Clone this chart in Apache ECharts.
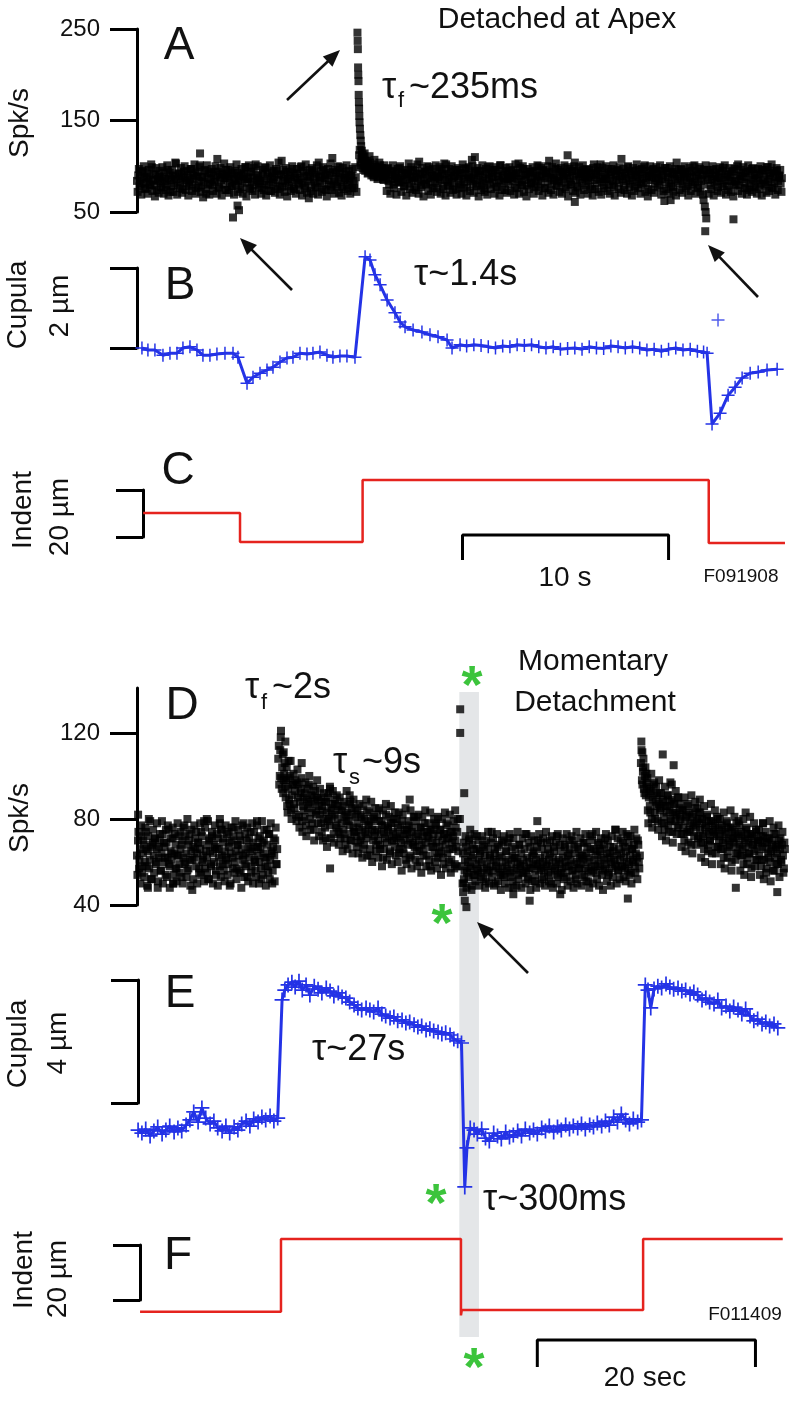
<!DOCTYPE html>
<html><head><meta charset="utf-8">
<script src="https://cdn.jsdelivr.net/npm/echarts@6/dist/echarts.min.js"></script>
<style>html,body{margin:0;padding:0;background:#fff}#c{width:789px;height:1409px}</style>
</head><body><div id="c"></div>
<script>
// ---------- Panel A: firing rate (spk/s), "Detached at Apex" ----------
const A_TICKS = [50, 150, 250];
const A_PRE_T = [0.0, 10.62];
const A_PRE = [84,90,78,86,95,81,88,76,92,83,87,80,99,85,79,91,74,86,89,82,
88,77,93,84,80,96,87,72,85,90,81,104,86,79,92,83,89,75,94,85,
82,91,78,87,97,80,86,93,76,89,84,101,79,88,83,95,70,87,92,81,
86,79,94,83,90,108,77,88,85,92,80,87,96,74,89,82,91,78,86,86,
80,93,84,84,89,77,91,86,99,82,88,75,94,83,87,79,102,85,90,81,
87,76,92,84,98,80,89,73,86,93,82,88,79,95,85,91,77,106,84,89,
81,94,86,78,90,83,97,75,88,85,92,80,87,100,82,89,76,93,84,65,
88,79,95,86,82,91,77,104,84,89,81,96,87,74,90,85,93,78,109,83,
86,92,80,88,99,83,77,91,85,94,79,87,82,90,76,84,80,88];
const A_PRE2_T = [0.03, 10.65];
const A_PRE2 = [72,97,81,69,94,100,75,88,70,96,79,102,73,91,67,98,84,71,95,77,
99,70,86,74,101,68,93,78,96,72,89,103,69,92,76,98,71,87,100,74,
95,68,83,97,73,90,102,70,94,77,99,72,88,66,96,75,101,80,69,93,
97,73,85,100,70,94,76,98,68,91,103,74,87,96,71,99,78,93,69,95,
102,72,89,75,97,70,92,99,67,86,101,76,94,73,98,69,90,100,77,84,
70,96,74,99,68,93,80,101,73,88,95,71,97,75,104,69,91,78,96,72,
98,67,86,94,73,100,76,92,70,97,82,74,99,68,95,79,102,71,89,96,
73,98,70,93,77,101,69,88,95,72,99,75,91,67,97,80,103,74,94,70,
96,78,100,71,92,68,98,75,87,101,73,95,70,90,97,76,99,72];
const A_POST_T = [10.78, 27.5];
const A_POST = [112,104,108,98,103,95,100,92,97,104,90,96,88,99,93,86,95,101,89,94,85,92,
88,97,84,91,86,94,80,89,93,83,87,98,82,90,85,78,92,86,95,81,
89,84,96,77,88,92,83,105,86,79,91,85,94,80,87,99,82,90,76,88,
84,93,81,89,86,97,78,91,85,102,83,88,79,94,87,82,90,75,96,84,
89,80,92,86,83,98,77,88,91,84,107,81,87,93,79,90,85,95,82,88,
76,91,84,99,86,80,93,88,82,96,78,89,85,101,83,90,87,74,94,86,
81,88,95,84,90,77,92,86,103,83,89,80,97,85,91,79,88,94,82,87,
93,78,86,90,84,100,81,89,95,76,87,92,83,106,88,80,91,85,97,79,
88,84,94,82,90,86,77,92,99,83,87,80,95,89,104,85,78,91,86,93,
82,89,96,79,87,84,92,88,75,98,85,90,81,94,86,102,83,88,79,91,
86,93,80,88,97,84,77,90,85,95,82,89,108,86,79,92,84,99,87,81,
90,85,94,78,88,83,96,86,80,91,87,101,82,89,75,93,85,88,97,81,
87,92,84,79,95,86,90,62,83,98,88,81,93,85,77,91,86,104,82,89,
84,96,80,88,92,85,78,94,87,82,100,89,83,91,76,86,97,84,90,80];
const A_POST2_T = [10.81, 27.53];
const A_POST2 = [118,101,110,96,114,99,106,93,111,97,102,90,107,95,99,88,104,92,98,86,101,94,
73,98,80,70,95,101,76,89,69,97,83,100,72,93,78,96,68,91,103,75,
99,71,87,95,74,102,70,92,77,98,67,94,81,100,73,96,69,90,97,76,
101,72,88,99,70,95,75,103,68,92,79,97,71,100,74,89,96,69,98,77,
93,70,102,76,97,68,91,99,73,86,100,71,95,78,98,67,94,74,101,80,
72,97,69,93,100,75,88,96,70,99,77,92,68,101,74,95,82,98,71,90,
99,73,87,96,69,102,76,93,70,98,79,100,72,91,67,97,75,94,81,99,
70,95,77,101,73,89,98,68,96,76,92,100,71,94,74,99,69,87,103,78,
96,72,98,70,93,101,75,90,67,97,80,94,73,100,71,95,77,99,69,92,
101,74,88,97,70,96,78,93,68,102,75,91,99,72,95,69,98,76,86,100,
73,97,70,94,79,101,68,92,96,75,99,71,89,97,74,93,70,100,77,95,
68,98,73,91,102,76,94,70,97,81,99,72,95,67,90,100,74,96,71,93,
99,77,87,101,69,95,73,98,75,92,70,100,78,94,72,97,68,91,96,74,
97,71,93,100,76,89,68,98,73,95,80,101,70,94,77,99,72,92,69,96];
const A_END_T = [27.66, 31.3];
const A_END = [88,85,92,79,86,96,82,89,84,77,93,87,81,98,85,90,78,88,84,
91,83,95,80,87,84,102,79,89,86,93,82,88,76,94,85,81,97,86,90,
78,87,84,92,81,96,85,88,80,99,83,90,86,77,93,82,88,95,84,89,81,87];
const A_END2_T = [27.69, 31.28];
const A_END2 = [96,70,93,75,100,68,91,97,73,88,99,71,95,78,101,69,92,74,98,72,
94,67,97,80,100,73,90,96,70,99,76,93,69,101,74,95,72,98,77,91,
70,97,75,100,68,94,79,96,71,99,73,92,102,76,95,69,98,74,90,96,72];
const A_SPIKE = [[10.70,246],[10.71,237],[10.72,228],[10.73,208],[10.74,200],[10.75,193],[10.76,178],
[10.77,170],[10.78,163],[10.79,155],[10.80,148],[10.82,141],[10.84,134],[10.86,128],[10.88,122],
[10.91,117],[10.95,113],[11.0,110],[11.08,106],[11.2,103]];
const A_OUT = [[4.66,44],[4.88,57],[4.95,52],[27.5,63],[27.56,56],[27.6,50],[27.63,43],[27.58,29],
[28.95,42],[21.25,61],[25.9,63],[3.06,114],[16.4,110],[20.9,112],[27.6,101]];

// ---------- Panel B: cupula displacement (µm) ----------
const B_PTS = [[0.24,0.00],[0.53,-0.05],[0.87,-0.05],[1.26,-0.18],[1.60,-0.13],[1.94,-0.13],[2.23,0.00],
[2.57,0.03],[2.91,-0.05],[3.20,-0.18],[3.54,-0.18],[3.88,-0.15],[4.27,-0.13],[4.66,-0.13],[4.90,-0.23],
[5.34,-0.88],[5.63,-0.73],[5.97,-0.63],[6.31,-0.55],[6.60,-0.48],[6.94,-0.35],[7.28,-0.25],[7.57,-0.23],
[7.91,-0.13],[8.25,-0.15],[8.54,-0.13],[8.88,-0.10],[9.22,-0.18],[9.51,-0.23],[9.85,-0.20],[10.19,-0.20],
[10.58,-0.23],[11.07,2.28],[11.31,2.20],[11.55,1.83],[11.80,1.58],[12.14,1.20],[12.52,0.88],[12.77,0.65],
[13.01,0.53],[13.40,0.45],[13.83,0.40],[14.22,0.33],[14.61,0.28],[15.05,0.20],[15.29,0.00],[15.68,0.08],
[16.0,0.05],[16.35,0.08],[16.7,0.06],[17.05,0.03],[17.4,0.00],[17.75,0.05],[18.1,0.03],[18.45,0.08],
[18.8,0.06],[19.15,0.08],[19.5,0.03],[19.85,0.00],[20.2,0.03],[20.55,-0.03],[20.9,-0.01],[21.25,0.00],
[21.6,-0.03],[21.95,0.03],[22.3,0.00],[22.65,-0.01],[23.0,0.05],[23.35,0.03],[23.7,0.00],[24.05,0.03],
[24.4,0.00],[24.75,-0.05],[25.1,-0.03],[25.45,-0.08],[25.8,-0.03],[26.15,0.00],[26.5,-0.05],[26.85,-0.03],
[27.2,-0.08],[27.5,-0.10],[27.67,-0.13],[27.91,-1.90],[28.30,-1.63],[28.69,-1.18],[29.03,-0.98],
[29.37,-0.75],[29.76,-0.63],[30.15,-0.60],[30.58,-0.55],[31.07,-0.53]];
const B_OUT = [[28.2,0.70]];

// ---------- Panel C: indentation (µm) ----------
const C_STEPS = [[0.3,10.2],[5.0,-2.1],[10.95,24.3],[27.75,-2.6],[31.45,-2.6]];
const C_BAR = [[15.8,-9.8],[15.8,0.8],[25.8,0.8],[25.8,-9.8]];

// ---------- Panel D: firing rate (spk/s), "Momentary Detachment" ----------
const D_TICKS = [40, 80, 120];
const D_PRE_T = [0.0, 12.85];
const D_PRE = [63,70,57,66,72,55,64,68,60,74,58,65,80,61,67,52,69,63,71,59,
66,48,62,70,56,64,73,60,67,54,69,62,75,58,65,61,71,50,64,68,
57,63,72,59,66,53,70,62,77,60,64,56,68,73,61,65,47,67,62,71,
58,64,69,55,66,74,61,63,79,57,68,62,52,70,65,59,72,64,60,67,
54,66,71,62,58,75,63,69,56,65,61,73,59,67,49,64,70,62,76,60,
65,57,68,63,72,55,66,61,78,59,64,70,53,67,62,74,58,65,69,61,
56,67,63,71,60,66,52,69,64,75,58,62,68,55,73,61,65,50,67,63,70,59,66];
const D_PRE2_T = [0.04, 12.8];
const D_PRE2 = [54,74,61,50,77,58,70,53,76,66,49,72,57,79,52,68,75,55,71,60,
78,51,67,73,56,79,50,69,62,75,53,77,59,48,71,64,76,54,73,57,
51,78,63,55,74,68,50,76,59,72,53,80,57,70,49,75,61,52,77,66,
74,50,69,57,78,54,72,60,51,76,65,55,79,52,71,58,74,50,68,77,
56,73,49,66,78,53,75,59,71,51,77,62,54,74,69,50,76,57,72,55,
79,52,68,75,56,70,48,77,63,53,73,58,76,51,71,66,55,78,50,74,
60,53,77,67,50,72,57,79,54,70,62,49,75,58,73,52,78,64,56,71,51,76,59];
const D_ON1_T = [12.95, 29.45];
const D_ON1 = [108,96,112,99,104,92,101,95,
98,86,94,89,100,84,91,96,87,93,82,97,
90,81,88,94,79,86,84,92,77,89,85,96,80,87,83,91,75,88,84,90,
78,86,82,90,74,84,80,88,71,83,79,92,77,85,81,87,73,82,89,76,
80,74,84,71,78,86,75,81,68,79,83,73,77,88,70,82,76,74,85,72,
78,69,76,82,72,75,66,80,74,71,84,73,77,63,79,75,70,81,74,68,
75,70,79,66,73,77,62,74,71,82,69,76,72,65,78,70,74,80,67,73,
71,76,64,72,69,79,66,73,70,61,75,68,77,71,63,74,69,81,67,72,
65,73,70,60,76,68,72,66,78,69,63,74,71,58,75,67,70,73,64,77,
69,62,72,67,75,65,70,59,73,68,78,64,71,66,74,61,69,72,57,70,67,74,65];
const D_ON1_2_T = [13.0, 29.4];
const D_ON1_2 = [114,100,118,94,110,98,106,90,
104,83,99,87,107,80,96,101,85,98,79,103,
96,76,92,99,74,90,81,97,72,94,88,100,75,91,78,95,70,93,82,98,
89,72,94,78,86,70,92,76,88,67,90,80,95,71,84,93,69,87,77,91,
86,68,90,73,84,65,88,71,82,93,66,79,87,70,85,64,89,74,81,67,
84,64,87,70,81,62,86,68,79,89,63,77,83,66,88,60,80,72,85,65,
82,62,85,68,79,58,84,66,77,87,61,75,81,64,86,59,78,70,83,63,
80,60,83,66,77,56,82,64,75,85,59,73,79,62,84,57,76,68,81,61,
79,58,82,65,76,55,81,63,74,84,58,72,78,61,83,56,75,67,80,60,
78,57,81,64,75,54,80,62,73,83,57,71,77,60,82,55,74,66,79,59,76,58,80];
const D_OFF_T = [29.8, 46.1];
const D_OFF = [58,64,52,61,67,55,60,70,57,63,49,62,66,54,59,72,56,61,65,53,
60,68,57,63,51,59,66,55,62,58,74,56,61,64,50,60,67,57,63,54,
62,58,69,53,60,65,56,61,71,55,59,63,48,62,66,57,60,54,68,59,
64,55,61,58,73,56,62,52,60,67,57,63,59,65,51,61,58,70,56,62,
57,66,60,53,63,59,69,55,61,64,50,58,62,67,56,60,72,54,61,59,
65,57,62,55,68,60,53,63,58,66,61,56,70,59,64,52,60,67,57,62,
59,63,54,61,69,57,64,60,51,62,66,58,73,56,61,65,55,63,59,68,
58,62,66,56,61,71,59,64,54,62,67,60,57,65,61,75,58,63,56,66,
61,64,58,69,62,57,65,60,72,59,63,55,66,61,68,58,64,62,70,60,63];
const D_OFF2_T = [29.85, 46.05];
const D_OFF2 = [50,69,56,72,48,65,53,71,58,47,68,54,73,51,66,57,70,49,64,55,
72,52,67,48,70,56,74,50,63,69,53,71,49,66,58,73,51,68,55,47,
70,54,72,50,65,57,69,48,73,53,67,51,71,56,62,49,74,52,68,58,
48,71,55,66,50,73,53,69,57,47,72,51,64,70,54,48,67,59,73,50,
69,52,71,56,49,74,58,66,51,70,54,72,48,65,57,69,50,73,53,68,
55,47,71,52,67,58,73,49,64,70,51,72,56,48,68,54,74,50,66,57,
71,49,63,69,53,73,51,67,56,48,72,55,70,50,66,58,74,52,69,49,
65,71,54,47,68,57,73,51,70,55,64,49,72,53,67,59,75,50,71,56,
52,70,58,74,53,67,51,73,56,69,54,72,50,66,60,75,55,71,52,68,57];
const D_ON2_T = [46.2, 59.4];
const D_ON2 = [106,98,102,94,100,91,
95,84,90,86,93,80,89,96,83,88,91,79,87,92,
85,78,88,81,75,86,83,91,77,84,80,89,74,83,87,79,82,76,90,81,
80,73,84,76,70,79,82,74,87,75,78,68,81,77,72,85,76,79,71,83,
75,69,78,72,66,76,73,81,68,74,70,79,64,75,72,77,67,73,80,70,
72,66,75,69,62,73,70,78,65,71,68,76,60,72,69,74,64,71,67,79,
68,63,72,66,59,70,67,75,62,69,64,73,57,68,71,65,61,74,66,69,
63,70,58,67,72,61,66,55,69,64,71,60,65,68,56,73,62,67,64,59,70,66,61,68,63,57,66];
const D_ON2_2_T = [46.25, 59.35];
const D_ON2_2 = [112,96,108,92,104,97,
99,78,94,83,101,76,92,97,80,95,86,75,98,84,
92,72,89,78,95,70,86,91,74,88,79,96,69,87,83,93,73,90,77,85,
87,67,84,73,90,65,81,86,69,83,74,91,64,82,78,88,68,85,72,80,
83,62,80,69,86,60,77,82,65,79,70,87,59,78,74,84,64,81,67,76,
80,59,77,66,83,57,74,79,62,76,67,84,56,75,71,81,61,78,64,73,
77,56,74,63,80,54,71,76,59,73,64,81,53,72,68,78,58,75,61,70,
75,54,72,61,78,52,69,74,57,71,62,79,51,70,66,76,56,73,59,68,77,53,71,60,74,55,69];
const D_OUT = [[0.1,82],[1.0,48],[3.3,50],[6.4,80],[7.6,80],[11.0,79],
[13.2,121],[13.45,111],[13.6,116],[13.9,107],[15.1,106],[17.7,94],[19.5,91],[17.7,57],[25.0,89],
[29.63,131],[29.63,120],[30.0,92],[29.17,84],[29.6,80],[30.55,75],[29.9,46],[30.05,42],[30.2,39],[29.95,50],
[36.7,79],[38.8,45],[36.0,42],[45.0,43],[34.5,45],
[46.24,116],[46.33,111],[48.2,110],[49.2,105],[46.4,104],[46.7,101],[48.9,97],[51.6,89],[55.8,83],
[57.4,78],[54.9,48],[58.7,46]];

// ---------- Panel E: cupula displacement (µm) ----------
const E_PTS = [[0.1,-0.88],[0.45,-0.98],[0.8,-0.85],[1.2,-1.07],[1.55,-0.91],[1.9,-0.78],[2.3,-1.01],
[2.65,-0.88],[3.0,-0.75],[3.4,-0.94],[3.75,-0.81],[4.1,-0.91],[4.5,-0.72],[4.85,-0.55],[5.2,-0.29],
[5.6,-0.62],[5.95,-0.16],[6.3,-0.49],[6.7,-0.68],[7.05,-0.59],[7.4,-0.81],[7.8,-0.91],[8.15,-0.75],
[8.5,-0.98],[8.9,-0.78],[9.25,-0.88],[9.6,-0.68],[10.0,-0.59],[10.35,-0.75],[10.7,-0.52],[11.1,-0.62],
[11.45,-0.46],[11.8,-0.55],[12.2,-0.42],[12.55,-0.59],[12.9,-0.49],
[13.3,3.35],[13.55,3.67],[13.85,3.84],[14.2,3.93],[14.5,3.77],[14.85,3.96],[15.15,3.67],[15.5,3.84],
[15.85,3.51],[16.25,3.80],[16.6,3.70],[16.95,3.58],[17.35,3.74],[17.7,3.64],[18.05,3.48],[18.45,3.58],
[18.8,3.45],[19.15,3.41],[19.5,3.28],[19.9,3.19],[20.25,3.09],[20.6,3.02],[21.0,3.09],[21.35,3.02],
[21.7,2.96],[22.1,3.09],[22.45,2.89],[22.8,2.83],[23.2,2.76],[23.55,2.80],[23.9,2.67],[24.3,2.70],
[24.65,2.60],[25.0,2.63],[25.4,2.54],[25.75,2.47],[26.1,2.50],[26.5,2.37],[26.85,2.41],[27.2,2.34],
[27.6,2.31],[27.95,2.24],[28.3,2.28],[28.7,2.21],[29.05,2.08],[29.4,2.02],[29.75,1.95],
[30.05,-2.73],[30.25,-1.46],[30.55,-0.81],[30.9,-0.88],[31.2,-1.01],[31.6,-0.85],[31.95,-1.14],
[32.3,-1.24],[32.7,-0.98],[33.05,-1.07],[33.4,-1.17],[33.8,-0.94],[34.15,-1.11],[34.5,-1.04],
[34.9,-0.91],[35.25,-1.07],[35.6,-0.85],[36.0,-0.98],[36.35,-0.88],[36.7,-1.01],[37.1,-0.81],
[37.45,-0.91],[37.8,-0.75],[38.2,-0.94],[38.55,-0.78],[38.9,-0.88],[39.3,-0.72],[39.65,-0.85],
[40.0,-0.75],[40.4,-0.81],[40.75,-0.68],[41.1,-0.85],[41.5,-0.72],[41.85,-0.78],[42.2,-0.65],
[42.6,-0.75],[42.95,-0.59],[43.3,-0.72],[43.7,-0.46],[44.05,-0.62],[44.4,-0.36],[44.8,-0.55],
[45.15,-0.68],[45.5,-0.52],[45.9,-0.62],[46.25,-0.55],
[46.6,3.84],[46.85,3.67],[47.1,3.09],[47.4,3.71],[47.75,3.80],[48.1,3.74],[48.5,3.87],[48.85,3.77],
[49.2,3.70],[49.6,3.74],[49.95,3.64],[50.3,3.67],[50.7,3.54],[51.05,3.61],[51.4,3.51],[51.8,3.35],
[52.15,3.41],[52.5,3.28],[52.9,3.22],[53.25,3.35],[53.6,3.09],[54.0,3.15],[54.35,2.99],[54.7,3.12],
[55.1,3.02],[55.45,2.89],[55.8,3.06],[56.2,2.83],[56.55,2.67],[56.9,2.73],[57.3,2.57],[57.65,2.63],
[58.0,2.50],[58.4,2.57],[58.75,2.44]];

// ---------- Panel F: indentation (µm) ----------
const F_STEPS = [[0.28,-4.3],[13.2,22.2],[29.7,-5.6],[29.78,-3.6],[46.4,22.2],[59.2,22.2]];
const F_BAR = [[36.7,-24.4],[36.7,-14.5],[56.7,-14.5],[56.7,-24.4]];
const BAND = [29.55, 31.35];

// ---------- helpers ----------
const FONT = 'Liberation Sans, Arial, Helvetica, sans-serif';
const INK = '#000000', BLUE = '#2433e6', RED = '#e5231e', GREEN = '#3cc43c';
const PLUS = 'path://M6.2,0H7.8V6.2H14V7.8H7.8V14H6.2V7.8H0V6.2H6.2Z';
function spread(range, vals) {
  const n = vals.length;
  return vals.map((v, i) => [range[0] + (range[1] - range[0]) * i / (n - 1), v]);
}
const grids = [
  {left:137, top:29, width:649, height:183},      // 0 A
  {left:137, top:240, width:649, height:200},     // 1 B data
  {left:137, top:268, width:10, height:80},       // 2 B bracket
  {left:137, top:466.5, width:649, height:103.4}, // 3 C data
  {left:143, top:490, width:10, height:47},       // 4 C bracket
  {left:137, top:688, width:649, height:217},     // 5 D
  {left:137, top:964.6, width:649, height:246},   // 6 E data
  {left:138, top:980, width:10, height:123},      // 7 E bracket
  {left:137, top:1220.25, width:649, height:110}, // 8 F data
  {left:140, top:1245, width:10, height:55},      // 9 F bracket
  {left:137, top:692, width:649, height:645}      // 10 band
].map(g => Object.assign({outerBoundsMode:'none', containLabel:false}, g));
const xMax = [31.5, 31.5, 1, 31.5, 1, 59.5, 59.5, 1, 59.5, 1, 59.5];
const xAxes = xMax.map((m, i) => ({gridIndex:i, type:'value', min:0, max:m, show:false}));
function hidden(i, mn, mx) { return {gridIndex:i, type:'value', min:mn, max:mx, show:false}; }
function bracket(i, mx) {
  return {gridIndex:i, type:'value', min:0, max:mx, interval:mx,
    axisLine:{show:true, lineStyle:{color:INK, width:3}},
    axisTick:{show:true, length:27, customValues:[0, mx], lineStyle:{color:INK, width:3}},
    axisLabel:{show:false}, splitLine:{show:false}};
}
function rateAxis(i, mn, mx, ticks, itv) {
  return {gridIndex:i, type:'value', min:mn, max:mx, interval:itv,
    axisLine:{show:true, lineStyle:{color:INK, width:3}},
    axisTick:{show:true, length:27, customValues:ticks, lineStyle:{color:INK, width:3}},
    axisLabel:{show:true, customValues:ticks, margin:37, fontSize:24, color:'#111', fontFamily:FONT},
    splitLine:{show:false}};
}
const yAxes = [
  rateAxis(0, 50, 250, A_TICKS, 100),
  hidden(1, -2.3, 2.7),
  bracket(2, 2),
  hidden(3, -14, 30),
  bracket(4, 20),
  rateAxis(5, 40, 140.9, D_TICKS, 40),
  hidden(6, -3.5, 4.5),
  bracket(7, 4),
  hidden(8, -11, 29),
  bracket(9, 20),
  hidden(10, 0, 1)
];
const sq = (idx, data) => ({type:'scatter', xAxisIndex:idx, yAxisIndex:idx, data, symbol:'rect',
  symbolSize:8, itemStyle:{color:INK}, clip:false, silent:true, z:3, large:false});
const series = [
  {type:'custom', xAxisIndex:10, yAxisIndex:10, data:[BAND], z:1, silent:true,
   renderItem:(p, api) => {
     const a = api.coord([api.value(0), 1]), b = api.coord([api.value(1), 0]);
     return {type:'rect', shape:{x:a[0], y:a[1], width:b[0]-a[0], height:b[1]-a[1]}, style:{fill:'#e4e6e8'}};
   }},
  sq(0, spread(A_PRE_T, A_PRE).concat(spread(A_PRE2_T, A_PRE2), spread(A_POST_T, A_POST),
     spread(A_POST2_T, A_POST2), spread(A_END_T, A_END), spread(A_END2_T, A_END2), A_SPIKE, A_OUT)),
  {type:'line', xAxisIndex:1, yAxisIndex:1, data:B_PTS, symbol:PLUS, symbolSize:13, clip:false,
   lineStyle:{color:BLUE, width:3}, itemStyle:{color:BLUE}, z:3, silent:true},
  {type:'scatter', xAxisIndex:1, yAxisIndex:1, data:B_OUT, symbol:PLUS, symbolSize:13, itemStyle:{color:BLUE}, z:3, silent:true},
  {type:'line', xAxisIndex:3, yAxisIndex:3, data:C_STEPS, step:'end', showSymbol:false, symbol:'none',
   lineStyle:{color:RED, width:2.5}, z:3, silent:true},
  {type:'line', xAxisIndex:3, yAxisIndex:3, data:C_BAR, showSymbol:false, symbol:'none', clip:false,
   lineStyle:{color:INK, width:3}, z:3, silent:true},
  sq(5, spread(D_PRE_T, D_PRE).concat(spread(D_PRE2_T, D_PRE2), spread(D_ON1_T, D_ON1), spread(D_ON1_2_T, D_ON1_2),
     spread(D_OFF_T, D_OFF), spread(D_OFF2_T, D_OFF2), spread(D_ON2_T, D_ON2), spread(D_ON2_2_T, D_ON2_2), D_OUT)),
  {type:'line', xAxisIndex:6, yAxisIndex:6, data:E_PTS, symbol:PLUS, symbolSize:15, clip:false,
   lineStyle:{color:BLUE, width:3}, itemStyle:{color:BLUE}, z:3, silent:true},
  {type:'line', xAxisIndex:8, yAxisIndex:8, data:F_STEPS, step:'end', showSymbol:false, symbol:'none',
   lineStyle:{color:RED, width:2.5}, z:3, silent:true},
  {type:'line', xAxisIndex:8, yAxisIndex:8, data:F_BAR, showSymbol:false, symbol:'none', clip:false,
   lineStyle:{color:INK, width:3}, z:3, silent:true}
];

// ---------- annotations ----------
function txt(x, y, s, size, align, extra) {
  const al = align || 'center';
  return Object.assign({type:'text', x:x, y:y, silent:true, z:10,
    style:{text:s, fontSize:size, fontFamily:FONT, fill:'#111', align:al, verticalAlign:'middle',
           textAlign:al, textVerticalAlign:'middle'}}, extra || {});
}
const ROT = {rotation: Math.PI / 2};
function arrow(x1, y1, x2, y2) {
  const dx = x2 - x1, dy = y2 - y1, L = Math.hypot(dx, dy), ux = dx / L, uy = dy / L;
  const bx = x2 - ux * 17, by = y2 - uy * 17;
  return [
    {type:'line', silent:true, z:10, shape:{x1:x1, y1:y1, x2:bx + ux * 2, y2:by + uy * 2}, style:{stroke:'#111', lineWidth:2.6}},
    {type:'polygon', silent:true, z:10, shape:{points:[[x2, y2], [bx - uy * 7, by + ux * 7], [bx + uy * 7, by - ux * 7]]}, style:{fill:'#111'}}
  ];
}
function star(x, y) {
  return {type:'text', x:x, y:y + 12, silent:true, z:10,
    style:{text:'*', fontSize:54, fontWeight:'bold', fontFamily:FONT, fill:GREEN, align:'center', verticalAlign:'middle',
           textAlign:'center', textVerticalAlign:'middle'}};
}
const graphics = [
  txt(557, 20, 'Detached at Apex', 30),
  txt(179, 46, 'A', 46), txt(180, 286, 'B', 46), txt(178, 471, 'C', 46),
  txt(182, 706, 'D', 46), txt(180, 994, 'E', 46), txt(178, 1256, 'F', 46),
  txt(20, 123, 'Spk/s', 28, 'center', ROT),
  txt(18, 305, 'Cupula', 28, 'center', ROT), txt(60, 306, '2 µm', 28, 'center', ROT),
  txt(23, 510, 'Indent', 28, 'center', ROT), txt(60, 517, '20 µm', 28, 'center', ROT),
  txt(20, 818, 'Spk/s', 28, 'center', ROT),
  txt(18, 1044, 'Cupula', 28, 'center', ROT), txt(58, 1043, '4 µm', 28, 'center', ROT),
  txt(24, 1270, 'Indent', 28, 'center', ROT), txt(58, 1279, '20 µm', 28, 'center', ROT),
  txt(382, 88, 'τ', 36, 'left'), txt(398, 101, 'f', 22, 'left'), txt(409, 88, '~235ms', 36, 'left'),
  txt(414, 275, 'τ~1.4s', 36, 'left'),
  txt(565, 578, '10 s', 28), txt(741, 577, 'F091908', 19),
  txt(245, 688, 'τ', 36, 'left'), txt(261, 703, 'f', 22, 'left'), txt(272, 688, '~2s', 36, 'left'),
  txt(333, 763, 'τ', 36, 'left'), txt(349, 778, 's', 22, 'left'), txt(362, 763, '~9s', 36, 'left'),
  txt(593, 662, 'Momentary', 30), txt(595, 703, 'Detachment', 30),
  txt(312, 1050, 'τ~27s', 36, 'left'),
  txt(483, 1200, 'τ~300ms', 36, 'left'),
  txt(745, 1315, 'F011409', 19),
  txt(645, 1378, '20 sec', 28),
  star(472, 676), star(442, 914), star(436, 1194), star(474, 1358)
].concat(arrow(287, 100, 340, 50), arrow(292, 290, 240, 238), arrow(758, 297, 708, 245), arrow(528, 973, 477, 922));

const chart = echarts.init(document.getElementById('c'), null, {renderer:'canvas', width:789, height:1409});
chart.setOption({
  animation:false,
  backgroundColor:'#ffffff',
  grid:grids, xAxis:xAxes, yAxis:yAxes, series:series, graphic:graphics
});
</script></body></html>
